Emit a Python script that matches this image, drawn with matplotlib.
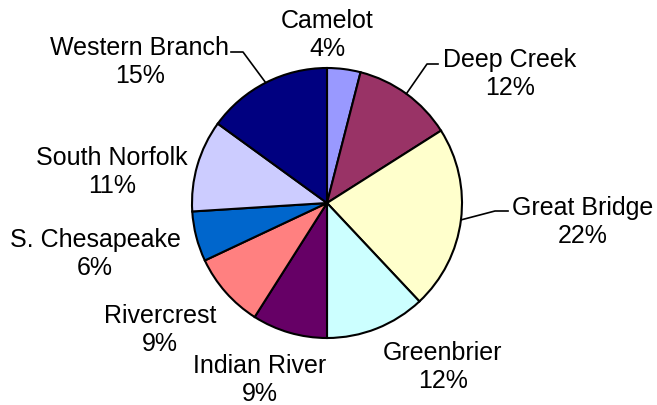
import matplotlib.pyplot as plt
import numpy as np

plt.rcParams["font.family"] = "Liberation Sans"

# Data
schools = ["Camelot", "Deep Creek", "Great Bridge", "Greenbrier", "Indian River",
           "Rivercrest", "S. Chesapeake", "South Norfolk", "Western Branch"]
shares = [4, 12, 22, 12, 9, 9, 6, 11, 15]
colors = ["#9999FF", "#993366", "#FFFFCC", "#CCFFFF", "#660066",
          "#FF8080", "#0066CC", "#CCCCFF", "#000080"]

# label layout (pixel coords, y from top): text center, optional leader elbow/end
label_pos = {
    "Camelot": (327, 35), "Deep Creek": (510, 74), "Great Bridge": (583, 222),
    "Greenbrier": (443, 367), "Indian River": (260, 380), "Rivercrest": (160, 330),
    "S. Chesapeake": (95, 254), "South Norfolk": (112, 172), "Western Branch": (140, 62),
}
leaders = {
    "Deep Creek": [(427, 65), (438, 65)],
    "Great Bridge": [(495, 212), (508, 212)],
    "Western Branch": [(243, 53), (231, 53)],
}

W, H = 657, 406
fig = plt.figure(figsize=(W / 100, H / 100), dpi=100)
ax = fig.add_axes([0, 0, 1, 1])

cx, cy, r = 327, H - 204, 135
wedges, _ = ax.pie(shares, colors=colors, startangle=90, counterclock=False,
                   radius=r, center=(cx, cy), frame=True,
                   wedgeprops=dict(edgecolor="black", linewidth=1.5))
ax.set_xlim(0, W)
ax.set_ylim(0, H)
ax.axis("off")

total = sum(shares)
cum = np.cumsum(shares) - np.array(shares) / 2
for name, val, mid in zip(schools, shares, cum):
    tx, ty = label_pos[name]
    ax.text(tx, H - ty, f"{name}\n{val / total * 100:.0f}%", ha="center", va="center",
            fontsize=18, linespacing=1.2)
    if name in leaders:
        ang = np.deg2rad(90 - mid / total * 360)
        ex, ey = cx + r * np.cos(ang), cy + r * np.sin(ang)
        pts = [(ex, ey)] + [(px, H - py) for px, py in leaders[name]]
        xs, ys = zip(*pts)
        ax.plot(xs, ys, color="black", linewidth=1.2)

fig.savefig("out.png", dpi=100)
